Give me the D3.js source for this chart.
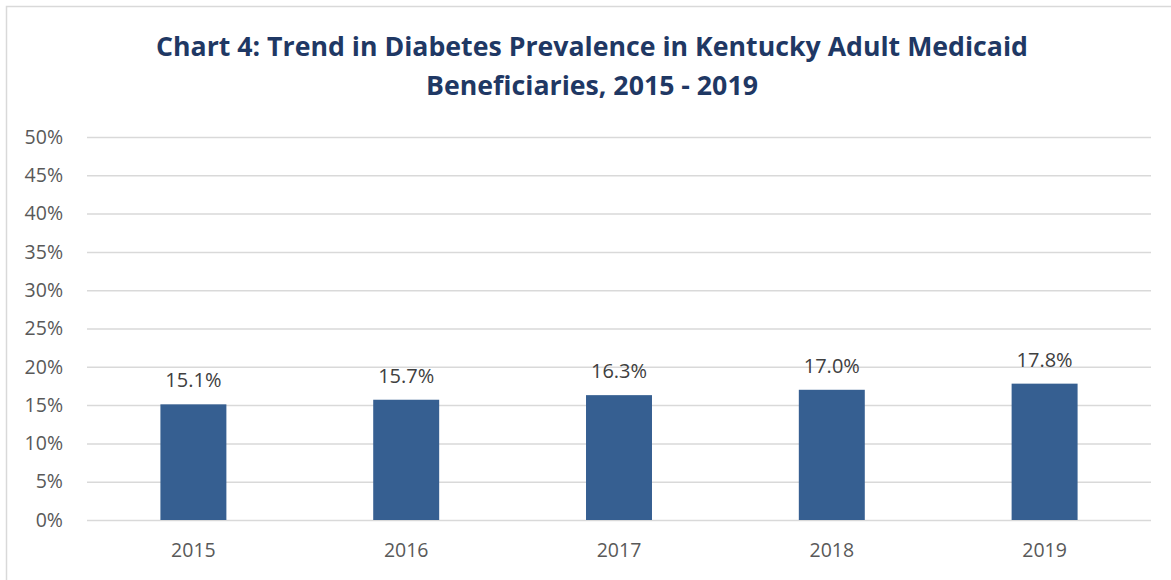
<!DOCTYPE html>
<html>
<head>
<meta charset="utf-8">
<script src="https://cdn.jsdelivr.net/npm/d3@7"></script>
<style>
  html, body { margin: 0; padding: 0; background: #fff; }
  svg { display: block; }
</style>
</head>
<body>
<svg id="chart" width="1171" height="580"></svg>
<script>
// Diabetes prevalence among Kentucky adult Medicaid beneficiaries, by year
const years = ["2015", "2016", "2017", "2018", "2019"];
const prevalence = [15.1, 15.7, 16.3, 17.0, 17.8];
const yTicks = [0, 5, 10, 15, 20, 25, 30, 35, 40, 45, 50];
const titleLines = [
  "Chart 4: Trend in Diabetes Prevalence in Kentucky Adult Medicaid",
  "Beneficiaries, 2015 - 2019"
];

const svg = d3.select("#chart");
const font = "'Open Sans', 'Liberation Sans', sans-serif";

// outer chart frame
svg.append("rect")
  .attr("x", 6.5).attr("y", 6.5)
  .attr("width", 1200).attr("height", 600)
  .attr("fill", "#fff")
  .attr("stroke", "#d9d9d9")
  .attr("stroke-width", 1.5);

const plot = { left: 87, right: 1151, top: 137, bottom: 520 };

const x = d3.scaleBand()
  .domain(years)
  .range([plot.left, plot.right])
  .paddingInner(0.69)
  .paddingOuter(0.345);

const y = d3.scaleLinear()
  .domain([0, 50])
  .range([plot.bottom, plot.top]);

// title
svg.append("g")
  .selectAll("text")
  .data(titleLines)
  .join("text")
  .attr("x", 592)
  .attr("y", (d, i) => 56 + i * 39)
  .attr("text-anchor", "middle")
  .attr("font-family", font)
  .attr("font-weight", "bold")
  .attr("font-size", 26.7)
  .attr("fill", "#1f3864")
  .text(d => d);

// gridlines and y labels
const yAxis = d3.axisLeft(y)
  .tickValues(yTicks)
  .tickSize(-(plot.right - plot.left))
  .tickPadding(24)
  .tickFormat(d => d + "%");

const gy = svg.append("g")
  .attr("transform", `translate(${plot.left},0)`)
  .call(yAxis);
gy.select(".domain").remove();
gy.selectAll(".tick line")
  .attr("stroke", "#d9d9d9")
  .attr("stroke-width", 1.5);
gy.selectAll(".tick text")
  .attr("font-family", font)
  .attr("font-size", 19.5)
  .attr("fill", "#595959");

// x labels
const xAxis = d3.axisBottom(x).tickSize(0).tickPadding(23);
const gx = svg.append("g")
  .attr("transform", `translate(0,${plot.bottom})`)
  .call(xAxis);
gx.select(".domain").remove();
gx.selectAll(".tick text")
  .attr("font-family", font)
  .attr("font-size", 19.5)
  .attr("fill", "#595959");

// bars
svg.append("g")
  .selectAll("rect")
  .data(prevalence)
  .join("rect")
  .attr("x", (d, i) => x(years[i]))
  .attr("y", d => y(d))
  .attr("width", x.bandwidth())
  .attr("height", d => y(0) - y(d))
  .attr("fill", "#365f91");

// value labels
svg.append("g")
  .selectAll("text")
  .data(prevalence)
  .join("text")
  .attr("x", (d, i) => x(years[i]) + x.bandwidth() / 2)
  .attr("y", d => y(d) - 17)
  .attr("text-anchor", "middle")
  .attr("font-family", font)
  .attr("font-size", 20)
  .attr("fill", "#404040")
  .text(d => d.toFixed(1) + "%");
</script>
</body>
</html>
